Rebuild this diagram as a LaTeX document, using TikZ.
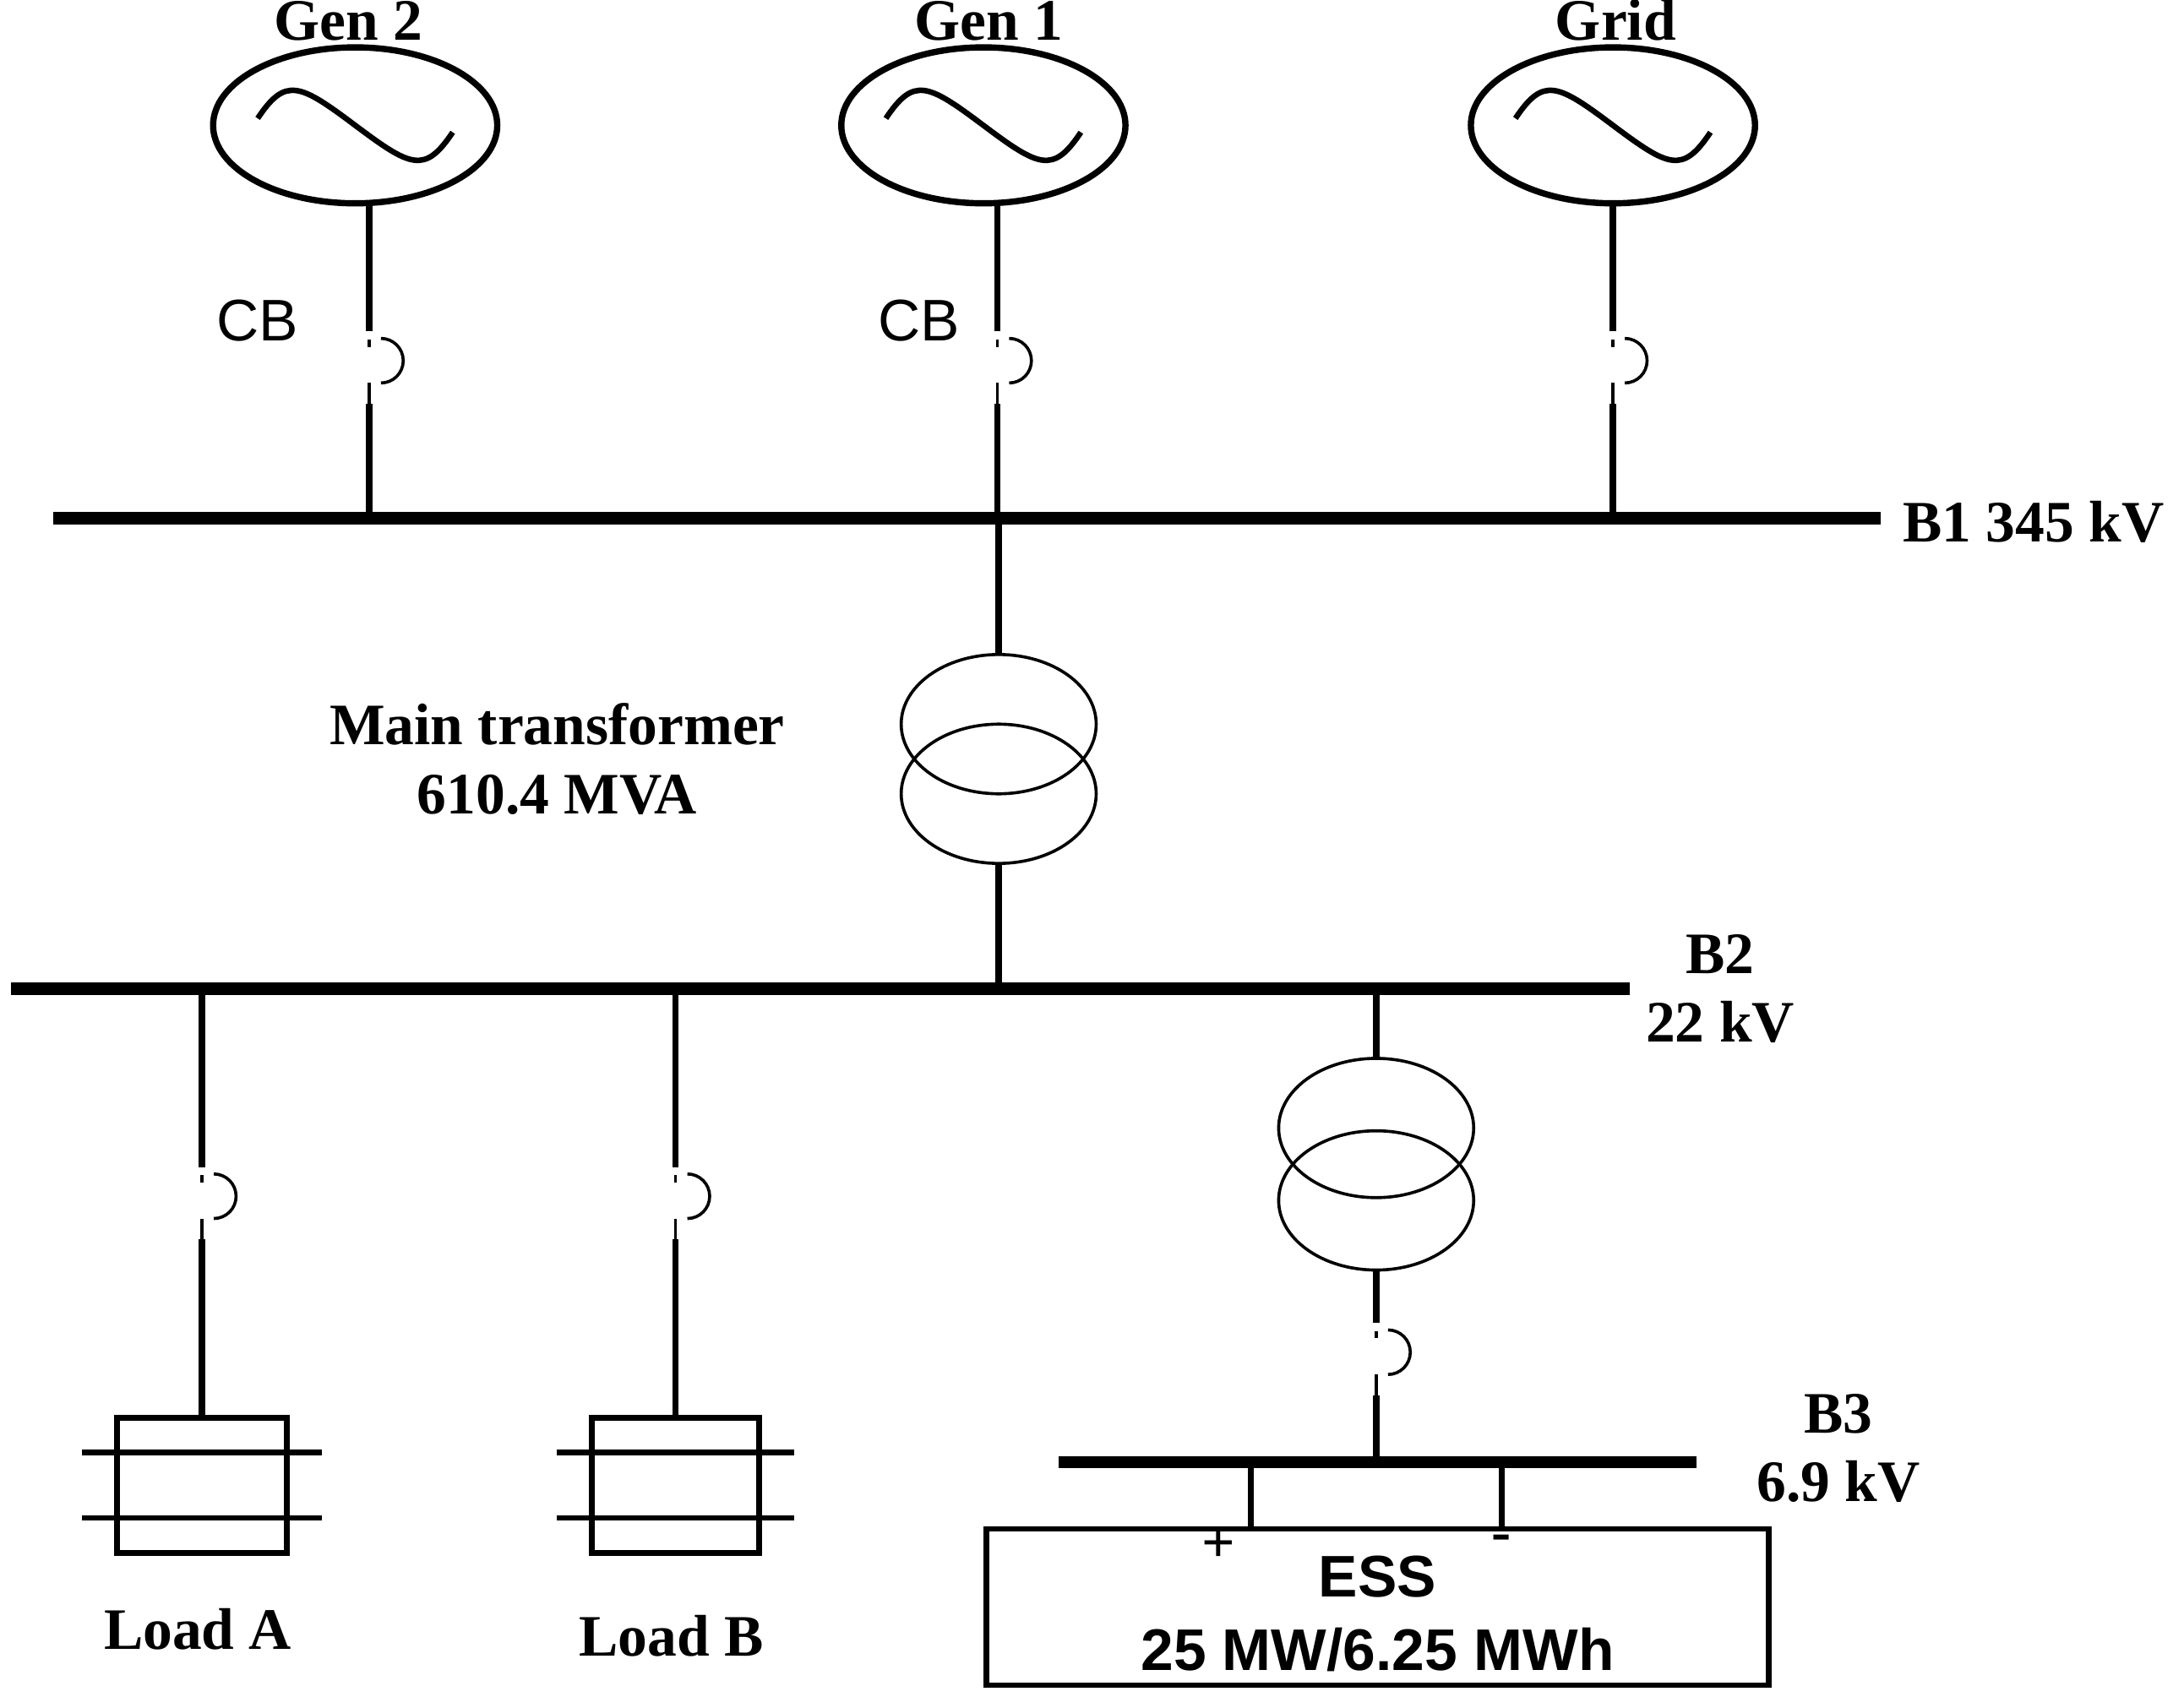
\documentclass[tikz,border=0pt]{standalone}
\usepackage{fontspec}
\setmainfont{Liberation Serif}
\newfontfamily\sansf{Liberation Sans}
\usetikzlibrary{positioning,shapes.geometric}
\tikzset{
  bus/.style={line width=0.9mm},
  wire/.style={line width=0.45mm},
  stub/.style={line width=0.22mm},
  gen/.style={draw, ellipse, line width=0.45mm, minimum width=2.04cm, minimum height=1.12cm},
  tr/.style={draw, ellipse, line width=0.22mm, minimum width=1.4cm, minimum height=1.0cm, inner sep=0pt},
  lbl/.style={font=\bfseries\fontsize{12}{14}\selectfont, align=center},
  cbl/.style={font=\sansf\fontsize{12}{14}\selectfont},
}
% breaker: top coordinate #1 -> bottom #2 (x, y-top, y-bottom)
\newcommand{\brk}[3]{%
  \draw[stub] (#1,#2-0.06) -- (#1,#2-0.06-0.05);
  \draw[stub] (#1,#3+0.15) -- (#1,#3);
  \draw[stub] (#1+0.085,#2-0.05) arc[start angle=90,end angle=-90,radius=0.16];
}
\begin{document}
\begin{tikzpicture}[x=1cm,y=1cm]
\useasboundingbox (0,0) rectangle (15.68,-12.18);
% generators
\node[gen] (g2) at (2.55,-0.90) {};
\node[gen] (g1) at (7.06,-0.90) {};
\node[gen] (gr) at (11.58,-0.90) {};
\foreach \n in {g2,g1,gr}
  \draw[line width=0.4mm] ([xshift=-0.7cm,yshift=0.05cm]\n.center) .. controls +(0.2,0.3) and +(-0.4,0.3) .. ([xshift=0cm]\n.center)
    .. controls +(0.4,-0.3) and +(-0.2,-0.3) .. ([xshift=0.7cm,yshift=-0.05cm]\n.center);
\node[lbl, anchor=base] (tg2) at (2.50,-0.29) {Gen 2};
\node[lbl, anchor=base] (tg1) at (7.10,-0.29) {Gen 1};
\node[lbl, anchor=base] (tgr) at (11.60,-0.29) {Grid};

% bus B1
\coordinate (b1l) at (0.38,-3.72);
\coordinate (b1r) at (13.50,-3.72);
\draw[bus] (b1l) -- (b1r);
\node[lbl] (tb1) at (14.60,-3.75) {B1 345 kV};

% generator feeders
\foreach \x in {2.65,7.16,11.58}{
  \draw[wire] (\x,-1.46) -- (\x,-2.38);
  \brk{\x}{-2.38}{-2.90}
  \draw[wire] (\x,-2.90) -- (\x,-3.72);
}
\node[cbl] (cb2) at (1.85,-2.30) {CB};
\node[cbl] (cb1) at (6.60,-2.30) {CB};

% main transformer
\node[tr] (mt1) at (7.17,-5.20) {};
\node[tr] (mt2) at (7.17,-5.70) {};
\draw[wire] (7.17,-3.72) -- (mt1.north);
\draw[wire] (mt2.south) -- (7.17,-7.10);
\node[lbl] (tmt) at (4.00,-5.45) {Main transformer\\610.4 MVA};

% bus B2
\draw[bus] (0.08,-7.10) -- (11.70,-7.10);
\node[lbl] (tb2) at (12.35,-7.10) {B2\\22 kV};

% loads
\foreach \x/\w/\t/\ty in {1.45/1.22/Load A/-11.70, 4.85/1.20/Load B/-11.75}{
  \draw[wire] (\x,-7.10) -- (\x,-8.38);
  \brk{\x}{-8.38}{-8.90}
  \draw[wire] (\x,-8.90) -- (\x,-10.18);
  \draw[line width=0.4mm] (\x-\w/2,-10.18) rectangle (\x+\w/2,-11.15);
  \draw[line width=0.4mm] (\x-\w/2-0.25,-10.43) -- (\x+\w/2+0.25,-10.43);
  \draw[line width=0.4mm] (\x-\w/2-0.25,-10.90) -- (\x+\w/2+0.25,-10.90);
  \node[lbl] at (\x-0.03,\ty) {\t};
}

% ESS transformer and feeder
\node[tr] (et1) at (9.88,-8.10) {};
\node[tr] (et2) at (9.88,-8.62) {};
\draw[wire] (9.88,-7.10) -- (et1.north);
\draw[wire] (et2.south) -- (9.88,-9.50);
\brk{9.88}{-9.50}{-10.02}
\draw[wire] (9.88,-10.02) -- (9.88,-10.50);

% bus B3 and ESS
\draw[bus] (7.60,-10.50) -- (12.18,-10.50);
\node[lbl] (tb3) at (13.20,-10.40) {B3\\6.9 kV};
\draw[wire] (8.98,-10.50) -- (8.98,-10.98);
\draw[wire] (10.78,-10.50) -- (10.78,-10.98);
\draw[line width=0.4mm] (7.08,-10.98) rectangle (12.70,-12.10) node[midway, yshift=-0.05cm, font=\sansf\bfseries\fontsize{12}{15}\selectfont, align=center] (ess) {ESS\\25 MW/6.25 MWh};
\node[lbl] (pl) at (8.75,-11.10) {+};
\node[lbl] (mi) at (10.78,-11.08) {-};
\end{tikzpicture}
\end{document}
